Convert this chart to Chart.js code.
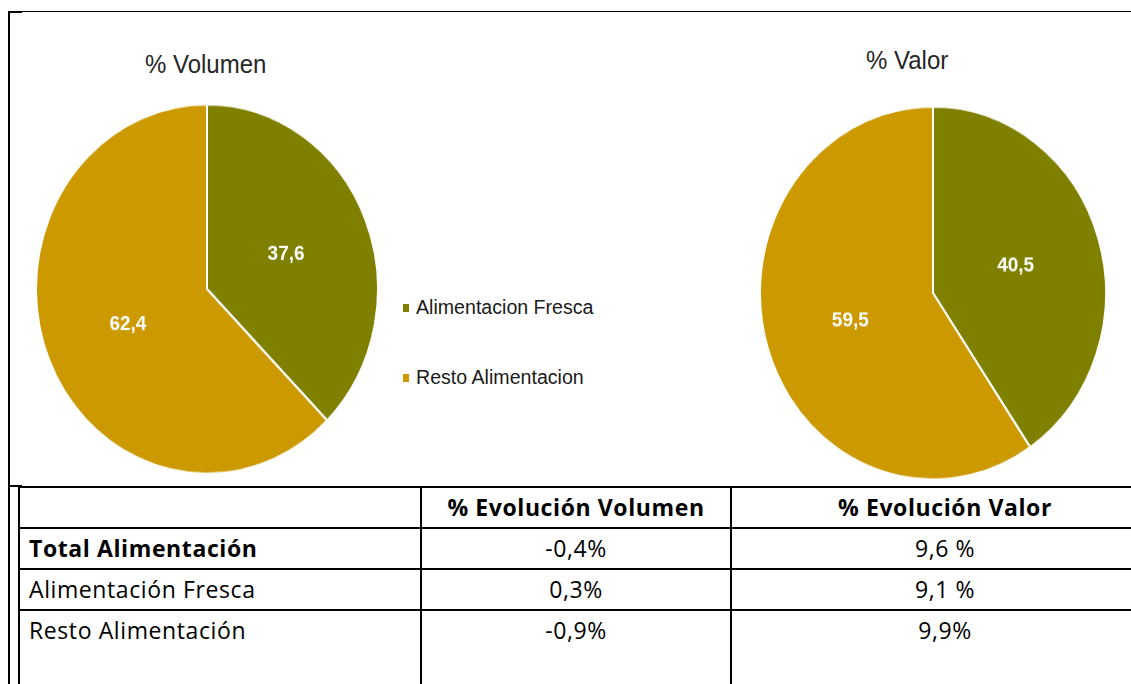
<!DOCTYPE html>
<html>
<head>
<meta charset="utf-8">
<script src="https://cdn.jsdelivr.net/npm/chart.js@4/dist/chart.umd.min.js"></script>
<style>
  html, body { margin:0; padding:0; background:#fff; width:1131px; height:684px; overflow:hidden; position:relative; }
  .abs { position:absolute; }
  .title { font-family:"Liberation Sans", Arial, sans-serif; font-size:24px; color:#262626; transform:scaleY(1.08); white-space:nowrap; }
  .leg { font-family:"Liberation Sans", Arial, sans-serif; font-size:19.6px; color:#1a1a1a; white-space:nowrap; }
  .sw { position:absolute; width:6px; height:8px; }
  table { position:absolute; left:18px; top:486px; width:1140px; table-layout:fixed; border-collapse:collapse; font-family:"Open Sans", sans-serif; font-size:23px; letter-spacing:0.6px; color:#000; }
  td { border:2px solid #000; height:39px; padding:0 0 0 9px; vertical-align:top; line-height:39px; white-space:nowrap; overflow:hidden; }
  td.c { text-align:center; padding:0; }
  tr.last td { height:100px; }
</style>
</head>
<body>
<!-- frame lines -->
<div class="abs" style="left:8px;top:11px;width:1123px;height:1px;background:#000"></div>
<div class="abs" style="left:8px;top:11px;width:14px;height:2px;background:#000"></div>
<div class="abs" style="left:8px;top:11px;width:2px;height:673px;background:#000"></div>
<div class="abs" style="left:8px;top:485px;width:14px;height:2px;background:#000"></div>

<div id="t1" class="abs title"></div>
<div id="t2" class="abs title"></div>

<div class="abs" style="left:35px;top:117px;width:344px;height:344px;transform:scaleY(1.08);transform-origin:50% 50%;">
  <canvas id="c1" width="344" height="344"></canvas>
</div>
<div class="abs" style="left:759px;top:119px;width:348px;height:348px;transform:scaleY(1.078);transform-origin:50% 50%;">
  <canvas id="c2" width="348" height="348"></canvas>
</div>

<div id="legend"></div>
<table id="tbl"></table>

<script>
// ---- data ----
const categories = ["Alimentacion Fresca", "Resto Alimentacion"];
const volumen = [37.6, 62.4];
const valor = [40.5, 59.5];
const chartTitles = ["% Volumen", "% Valor"];
const colors = ["#808000", "#CC9900"];

const tableHeader = ["", "% Evolución Volumen", "% Evolución Valor"];
const rowLabels = ["Total Alimentación", "Alimentación Fresca", "Resto Alimentación"];
const evolVolumen = ["-0,4%", "0,3%", "-0,9%"];
const evolValor = ["9,6 %", "9,1 %", "9,9%"];

// ---- titles ----
const t1 = document.getElementById('t1');
t1.textContent = chartTitles[0];
t1.style.left = '145px'; t1.style.top = '50px';
const t2 = document.getElementById('t2');
t2.textContent = chartTitles[1];
t2.style.left = '866px'; t2.style.top = '46px';

// ---- legend ----
const legend = document.getElementById('legend');
const legY = [308, 378];
categories.forEach((c, i) => {
  const sw = document.createElement('div');
  sw.className = 'sw';
  sw.style.background = colors[i];
  sw.style.left = '403px';
  sw.style.top = (legY[i] - 4) + 'px';
  legend.appendChild(sw);
  const tx = document.createElement('div');
  tx.className = 'abs leg';
  tx.textContent = c;
  tx.style.left = '416px';
  tx.style.top = (legY[i] - 12) + 'px';
  legend.appendChild(tx);
});

// ---- table ----
const tbl = document.getElementById('tbl');
const colW = [402, 310, 428];
let html = '<colgroup>' + colW.map(w => `<col style="width:${w}px">`).join('') + '</colgroup><tr>';
tableHeader.forEach((h, j) => { html += `<td class="${j ? 'c' : ''}" style="font-weight:bold">${h}</td>`; });
html += '</tr>';
rowLabels.forEach((r, i) => {
  html += `<tr class="${i === rowLabels.length - 1 ? 'last' : ''}"><td style="${i === 0 ? 'font-weight:bold' : ''}">${r}</td><td class="c">${evolVolumen[i]}</td><td class="c">${evolValor[i]}</td></tr>`;
});
tbl.innerHTML = html;

// ---- pies ----
const labelPlugin = {
  id: 'sliceLabels',
  afterDatasetsDraw(chart) {
    const ctx = chart.ctx;
    const ds = chart.data.datasets[0];
    chart.getDatasetMeta(0).data.forEach((arc, i) => {
      const p = arc.tooltipPosition();
      ctx.save();
      ctx.fillStyle = '#ffffff';
      ctx.font = 'bold 19px "Liberation Sans", Arial, sans-serif';
      ctx.textAlign = 'center';
      ctx.textBaseline = 'middle';
      ctx.fillText(ds.data[i].toFixed(1).replace('.', ','), p.x, p.y);
      ctx.restore();
    });
  }
};

function makePie(id, values) {
  new Chart(document.getElementById(id), {
    type: 'pie',
    data: { labels: categories, datasets: [{ data: values, backgroundColor: colors, borderColor: '#ffffff', borderWidth: 2 }] },
    options: {
      responsive: false,
      animation: false,
      devicePixelRatio: 1,
      layout: { padding: 0 },
      plugins: { legend: { display: false }, tooltip: { enabled: false } }
    },
    plugins: [labelPlugin]
  });
}
makePie('c1', volumen);
makePie('c2', valor);
</script>
</body>
</html>
